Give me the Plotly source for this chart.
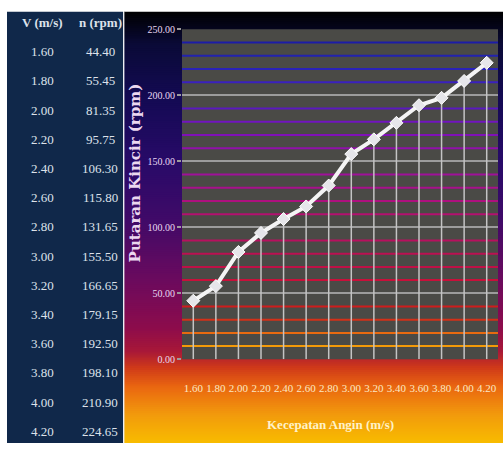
import plotly.graph_objects as go

# Wind speed (m/s) and turbine rotation (rpm)
speed_labels = ["1.60", "1.80", "2.00", "2.20", "2.40", "2.60", "2.80",
                "3.00", "3.20", "3.40", "3.60", "3.80", "4.00", "4.20"]
rpm_values = [44.40, 55.45, 81.35, 95.75, 106.30, 115.80, 131.65,
              155.50, 166.65, 179.15, 192.50, 198.10, 210.90, 224.65]
table_headers = ["V (m/s)", "n (rpm)"]
y_tick_values = [0, 50, 100, 150, 200, 250]
minor_levels = [10, 20, 30, 40, 60, 70, 80, 90, 110, 120, 130, 140,
                160, 170, 180, 190, 210, 220, 230, 240]
minor_colors = ["#f39a08", "#e86a10", "#d43018", "#d01c1c",
                "#c8103a", "#c01046", "#bc1052", "#b8105e",
                "#b41070", "#ae107e", "#a8108c", "#a0109a",
                "#9010aa", "#8010b8", "#7214c0", "#5a18c0",
                "#3a20c0", "#2a22b8", "#2222b0", "#1c1ca8"]

W, H = 503, 449


def px(x):
    return x / W


def py(y):
    return 1 - y / H


def hex_rgb(h):
    h = h.lstrip("#")
    return tuple(int(h[i:i + 2], 16) for i in (0, 2, 4))


# vertical colour stops of the chart backdrop (pixel row, colour)
bg_stops = [(6, "#000000"), (40, "#0a0a38"), (100, "#150a55"),
            (160, "#280a68"), (220, "#400a68"), (280, "#6a0a5e"),
            (330, "#8c0c4c"), (355, "#a81838"), (372, "#d03a18"),
            (392, "#ea6810"), (420, "#f29a0c"), (449, "#f8bc00")]


def bg_color(y):
    for (y0, c0), (y1, c1) in zip(bg_stops[:-1], bg_stops[1:]):
        if y0 <= y <= y1:
            t = (y - y0) / (y1 - y0)
            a, b = hex_rgb(c0), hex_rgb(c1)
            return "rgb(%d,%d,%d)" % tuple(round(a[i] + (b[i] - a[i]) * t) for i in range(3))
    return bg_stops[-1][1]


shapes = []
step = 2
for y in range(6, H, step):
    # each band overlaps the next one slightly so no seams show
    shapes.append(dict(type="rect", xref="paper", yref="paper",
                       x0=px(124), x1=1.0, y0=max(py(y + step + 1.5), 0), y1=py(y),
                       fillcolor=bg_color(y + step / 2), line=dict(width=0),
                       layer="below"))

# table panel and separator
shapes.append(dict(type="rect", xref="paper", yref="paper",
                   x0=px(7), x1=px(123), y0=0, y1=py(6),
                   fillcolor="#10284a", line=dict(width=0), layer="below"))
shapes.append(dict(type="line", xref="paper", yref="paper",
                   x0=px(123.8), x1=px(123.8), y0=0, y1=py(6),
                   line=dict(color="#e8eaf0", width=1.2), layer="below"))

# plot area fill
shapes.append(dict(type="rect", xref="x domain", yref="y domain",
                   x0=0, x1=1, y0=0, y1=1,
                   fillcolor="rgb(74,74,70)", line=dict(width=0), layer="below"))

# coloured minor gridlines
for lvl, col in zip(minor_levels, minor_colors):
    shapes.append(dict(type="line", xref="x domain", yref="y",
                       x0=0, x1=1, y0=lvl, y1=lvl,
                       line=dict(color=col, width=2), layer="below"))

fig = go.Figure()

# drop lines from each point to the axis
drop_x, drop_y = [], []
for s, v in zip(speed_labels, rpm_values):
    drop_x += [s, s, None]
    drop_y += [0, v, None]
fig.add_trace(go.Scatter(x=drop_x, y=drop_y, mode="lines",
                         line=dict(color="#c4c4c4", width=1.5),
                         hoverinfo="skip", showlegend=False))

fig.add_trace(go.Scatter(x=speed_labels, y=rpm_values, mode="lines+markers",
                         line=dict(color="#f4f4f4", width=4),
                         marker=dict(symbol="diamond", size=10, color="#e6e6ea",
                                     line=dict(color="#ffffff", width=1)),
                         showlegend=False))

annotations = []
serif = "Liberation Serif"
table_color = "#dde2ea"
col_x = [42, 100]
for hdr, cx in zip(table_headers, col_x):
    annotations.append(dict(text="<b>%s</b>" % hdr, x=px(cx), y=py(17),
                            xref="paper", yref="paper", showarrow=False,
                            xanchor="center", yanchor="middle",
                            font=dict(family=serif, size=13, color=table_color)))
for i, (s, v) in enumerate(zip(speed_labels, rpm_values)):
    ry = 47 + 30.0 * i
    annotations.append(dict(text=s, x=px(col_x[0]), y=py(ry),
                            xref="paper", yref="paper", showarrow=False,
                            xanchor="center", yanchor="middle",
                            font=dict(family=serif, size=13, color=table_color)))
    annotations.append(dict(text="%.2f" % v, x=px(col_x[1]), y=py(ry),
                            xref="paper", yref="paper", showarrow=False,
                            xanchor="center", yanchor="middle",
                            font=dict(family=serif, size=13, color=table_color)))

annotations.append(dict(text="<b>Putaran Kincir (rpm)</b>", textangle=-90,
                        x=px(135), y=py(172), xref="paper", yref="paper",
                        showarrow=False, xanchor="center", yanchor="middle",
                        font=dict(family="DejaVu Serif", size=15, color="#ecd8f0")))
annotations.append(dict(text="<b>Kecepatan Angin (m/s)</b>",
                        x=px(330), y=py(430), xref="paper", yref="paper",
                        showarrow=False, xanchor="center", yanchor="middle",
                        font=dict(family=serif, size=13, color="#fff2c8")))

fig.update_layout(
    width=W, height=H, autosize=False,
    margin=dict(l=0, r=0, t=0, b=0),
    paper_bgcolor="#ffffff", plot_bgcolor="rgba(0,0,0,0)",
    shapes=shapes, annotations=annotations,
    xaxis=dict(type="category", domain=[px(182), px(498)],
               range=[-0.5, len(speed_labels) - 0.5],
               showgrid=False, zeroline=False, showline=False, ticks="",
               tickangle=0, ticklabelstandoff=21,
               tickfont=dict(family=serif, size=11, color="#fbe8c4")),
    yaxis=dict(range=[0, 250], domain=[py(363), py(24)],
               tickvals=y_tick_values, tickformat=".2f",
               showgrid=True, gridcolor="#9c9c9c", gridwidth=1.5,
               zeroline=False, showline=False,
               ticks="outside", ticklen=4, tickcolor="#9c9c9c", tickwidth=1.5,
               tickfont=dict(family=serif, size=10, color="#e6d8f2")),
)

fig.write_html("out.html")
